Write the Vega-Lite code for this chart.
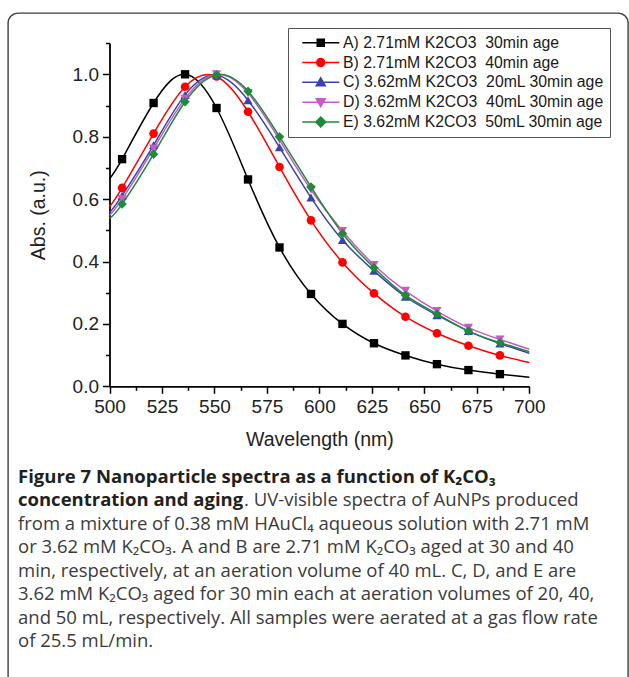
{
  "$schema": "https://vega.github.io/schema/vega-lite/v6.json",
  "width": 620,
  "height": 684,
  "autosize": {"type": "none"},
  "padding": {"left": 8, "top": 13, "right": 1, "bottom": -20},
  "background": "white",
  "config": {
    "view": {"stroke": "#3c3c3c", "strokeWidth": 1.4, "cornerRadius": 10},
    "axis": {
      "grid": false,
      "labelFlush": false,
      "labelOverlap": false,
      "domainColor": "#000",
      "domainWidth": 1.8,
      "tickColor": "#000",
      "tickWidth": 1.5,
      "labelFont": "Liberation Sans",
      "labelFontSize": 19,
      "labelColor": "#222",
      "titleFont": "Liberation Sans",
      "titleFontSize": 19.5,
      "titleFontWeight": "normal",
      "titleColor": "#222"
    },
    "legend": {
      "padding": 6,
      "strokeColor": "#555",
      "fillColor": "white",
      "cornerRadius": 0,
      "labelFont": "Liberation Sans",
      "labelFontSize": 15.8,
      "labelColor": "#1a1a1a",
      "labelOffset": 2,
      "labelLimit": 400,
      "symbolSize": 2025,
      "symbolStrokeWidth": 1.5,
      "clipHeight": 17.5,
      "rowPadding": 1.8
    }
  },
  "datasets": {
    "spectra": [
      {"s": "A) 2.71mM K2CO3\u00a0 30min age", "wl": 500, "a": 0.665},
      {"s": "A) 2.71mM K2CO3\u00a0 30min age", "wl": 506, "a": 0.728},
      {"s": "A) 2.71mM K2CO3\u00a0 30min age", "wl": 521, "a": 0.908},
      {"s": "A) 2.71mM K2CO3\u00a0 30min age", "wl": 536, "a": 1.0},
      {"s": "A) 2.71mM K2CO3\u00a0 30min age", "wl": 551, "a": 0.892},
      {"s": "A) 2.71mM K2CO3\u00a0 30min age", "wl": 566, "a": 0.663},
      {"s": "A) 2.71mM K2CO3\u00a0 30min age", "wl": 581, "a": 0.445},
      {"s": "A) 2.71mM K2CO3\u00a0 30min age", "wl": 596, "a": 0.296},
      {"s": "A) 2.71mM K2CO3\u00a0 30min age", "wl": 611, "a": 0.2},
      {"s": "A) 2.71mM K2CO3\u00a0 30min age", "wl": 626, "a": 0.138},
      {"s": "A) 2.71mM K2CO3\u00a0 30min age", "wl": 641, "a": 0.099},
      {"s": "A) 2.71mM K2CO3\u00a0 30min age", "wl": 656, "a": 0.071},
      {"s": "A) 2.71mM K2CO3\u00a0 30min age", "wl": 671, "a": 0.052},
      {"s": "A) 2.71mM K2CO3\u00a0 30min age", "wl": 686, "a": 0.039},
      {"s": "A) 2.71mM K2CO3\u00a0 30min age", "wl": 700, "a": 0.029},
      {"s": "B) 2.71mM K2CO3\u00a0 40min age", "wl": 500, "a": 0.575},
      {"s": "B) 2.71mM K2CO3\u00a0 40min age", "wl": 506, "a": 0.636},
      {"s": "B) 2.71mM K2CO3\u00a0 40min age", "wl": 521, "a": 0.81},
      {"s": "B) 2.71mM K2CO3\u00a0 40min age", "wl": 536, "a": 0.96},
      {"s": "B) 2.71mM K2CO3\u00a0 40min age", "wl": 551, "a": 0.993},
      {"s": "B) 2.71mM K2CO3\u00a0 40min age", "wl": 566, "a": 0.88},
      {"s": "B) 2.71mM K2CO3\u00a0 40min age", "wl": 581, "a": 0.703},
      {"s": "B) 2.71mM K2CO3\u00a0 40min age", "wl": 596, "a": 0.532},
      {"s": "B) 2.71mM K2CO3\u00a0 40min age", "wl": 611, "a": 0.397},
      {"s": "B) 2.71mM K2CO3\u00a0 40min age", "wl": 626, "a": 0.298},
      {"s": "B) 2.71mM K2CO3\u00a0 40min age", "wl": 641, "a": 0.223},
      {"s": "B) 2.71mM K2CO3\u00a0 40min age", "wl": 656, "a": 0.17},
      {"s": "B) 2.71mM K2CO3\u00a0 40min age", "wl": 671, "a": 0.13},
      {"s": "B) 2.71mM K2CO3\u00a0 40min age", "wl": 686, "a": 0.099},
      {"s": "B) 2.71mM K2CO3\u00a0 40min age", "wl": 700, "a": 0.076},
      {"s": "C) 3.62mM K2CO3\u00a0 20mL 30min age", "wl": 500, "a": 0.556},
      {"s": "C) 3.62mM K2CO3\u00a0 20mL 30min age", "wl": 506, "a": 0.611},
      {"s": "C) 3.62mM K2CO3\u00a0 20mL 30min age", "wl": 521, "a": 0.773},
      {"s": "C) 3.62mM K2CO3\u00a0 20mL 30min age", "wl": 536, "a": 0.934},
      {"s": "C) 3.62mM K2CO3\u00a0 20mL 30min age", "wl": 551, "a": 0.997},
      {"s": "C) 3.62mM K2CO3\u00a0 20mL 30min age", "wl": 566, "a": 0.917},
      {"s": "C) 3.62mM K2CO3\u00a0 20mL 30min age", "wl": 581, "a": 0.766},
      {"s": "C) 3.62mM K2CO3\u00a0 20mL 30min age", "wl": 596, "a": 0.605},
      {"s": "C) 3.62mM K2CO3\u00a0 20mL 30min age", "wl": 611, "a": 0.469},
      {"s": "C) 3.62mM K2CO3\u00a0 20mL 30min age", "wl": 626, "a": 0.37},
      {"s": "C) 3.62mM K2CO3\u00a0 20mL 30min age", "wl": 641, "a": 0.287},
      {"s": "C) 3.62mM K2CO3\u00a0 20mL 30min age", "wl": 656, "a": 0.228},
      {"s": "C) 3.62mM K2CO3\u00a0 20mL 30min age", "wl": 671, "a": 0.177},
      {"s": "C) 3.62mM K2CO3\u00a0 20mL 30min age", "wl": 686, "a": 0.137},
      {"s": "C) 3.62mM K2CO3\u00a0 20mL 30min age", "wl": 700, "a": 0.106},
      {"s": "D) 3.62mM K2CO3\u00a0 40mL 30min age", "wl": 500, "a": 0.548},
      {"s": "D) 3.62mM K2CO3\u00a0 40mL 30min age", "wl": 506, "a": 0.6},
      {"s": "D) 3.62mM K2CO3\u00a0 40mL 30min age", "wl": 521, "a": 0.762},
      {"s": "D) 3.62mM K2CO3\u00a0 40mL 30min age", "wl": 536, "a": 0.922},
      {"s": "D) 3.62mM K2CO3\u00a0 40mL 30min age", "wl": 551, "a": 1.0},
      {"s": "D) 3.62mM K2CO3\u00a0 40mL 30min age", "wl": 566, "a": 0.94},
      {"s": "D) 3.62mM K2CO3\u00a0 40mL 30min age", "wl": 581, "a": 0.79},
      {"s": "D) 3.62mM K2CO3\u00a0 40mL 30min age", "wl": 596, "a": 0.63},
      {"s": "D) 3.62mM K2CO3\u00a0 40mL 30min age", "wl": 611, "a": 0.498},
      {"s": "D) 3.62mM K2CO3\u00a0 40mL 30min age", "wl": 626, "a": 0.389},
      {"s": "D) 3.62mM K2CO3\u00a0 40mL 30min age", "wl": 641, "a": 0.306},
      {"s": "D) 3.62mM K2CO3\u00a0 40mL 30min age", "wl": 656, "a": 0.241},
      {"s": "D) 3.62mM K2CO3\u00a0 40mL 30min age", "wl": 671, "a": 0.188},
      {"s": "D) 3.62mM K2CO3\u00a0 40mL 30min age", "wl": 686, "a": 0.15},
      {"s": "D) 3.62mM K2CO3\u00a0 40mL 30min age", "wl": 700, "a": 0.119},
      {"s": "E) 3.62mM K2CO3\u00a0 50mL 30min age", "wl": 500, "a": 0.538},
      {"s": "E) 3.62mM K2CO3\u00a0 50mL 30min age", "wl": 506, "a": 0.584},
      {"s": "E) 3.62mM K2CO3\u00a0 50mL 30min age", "wl": 521, "a": 0.744},
      {"s": "E) 3.62mM K2CO3\u00a0 50mL 30min age", "wl": 536, "a": 0.912},
      {"s": "E) 3.62mM K2CO3\u00a0 50mL 30min age", "wl": 551, "a": 0.998},
      {"s": "E) 3.62mM K2CO3\u00a0 50mL 30min age", "wl": 566, "a": 0.946},
      {"s": "E) 3.62mM K2CO3\u00a0 50mL 30min age", "wl": 581, "a": 0.8},
      {"s": "E) 3.62mM K2CO3\u00a0 50mL 30min age", "wl": 596, "a": 0.639},
      {"s": "E) 3.62mM K2CO3\u00a0 50mL 30min age", "wl": 611, "a": 0.49},
      {"s": "E) 3.62mM K2CO3\u00a0 50mL 30min age", "wl": 626, "a": 0.38},
      {"s": "E) 3.62mM K2CO3\u00a0 50mL 30min age", "wl": 641, "a": 0.292},
      {"s": "E) 3.62mM K2CO3\u00a0 50mL 30min age", "wl": 656, "a": 0.232},
      {"s": "E) 3.62mM K2CO3\u00a0 50mL 30min age", "wl": 671, "a": 0.177},
      {"s": "E) 3.62mM K2CO3\u00a0 50mL 30min age", "wl": 686, "a": 0.14},
      {"s": "E) 3.62mM K2CO3\u00a0 50mL 30min age", "wl": 700, "a": 0.111}
    ],
    "caption": [
      {"ln": 1, "kind": "head", "seg": 1, "t": "Figure 7 Nanoparticle spectra as a function of K₂CO₃"},
      {"ln": 2, "kind": "head", "seg": 1, "t": "concentration and aging"},
      {"ln": 2, "kind": "body", "seg": 2, "t": ". UV-visible spectra of AuNPs produced"},
      {"ln": 3, "kind": "body", "seg": 1, "t": "from a mixture of 0.38 mM HAuCl₄ aqueous solution with 2.71 mM"},
      {"ln": 4, "kind": "body", "seg": 1, "t": "or 3.62 mM K₂CO₃. A and B are 2.71 mM K₂CO₃ aged at 30 and 40"},
      {"ln": 5, "kind": "body", "seg": 1, "t": "min, respectively, at an aeration volume of 40 mL. C, D, and E are"},
      {"ln": 6, "kind": "body", "seg": 1, "t": "3.62 mM K₂CO₃ aged for 30 min each at aeration volumes of 20, 40,"},
      {"ln": 7, "kind": "body", "seg": 1, "t": "and 50 mL, respectively. All samples were aerated at a gas flow rate"},
      {"ln": 8, "kind": "body", "seg": 1, "t": "of 25.5 mL/min."}
    ]
  },
  "layer": [
    {
      "data": {"name": "spectra"},
      "mark": {"type": "line", "strokeWidth": 1.5, "interpolate": "natural"},
      "encoding": {
        "x": {"field": "wl", "type": "quantitative", "scale": {"domain": [500, 700], "range": [101.5, 521.3], "nice": false, "zero": false},
          "axis": {"orient": "bottom", "offset": -310.7, "values": [500, 525, 550, 575, 600, 625, 650, 675, 700], "tickSize": 7, "labelPadding": 4, "title": "Wavelength (nm)", "titlePadding": 14}},
        "y": {"field": "a", "type": "quantitative", "scale": {"domain": [0, 1.1], "range": [373.3, 30.1], "nice": false, "zero": false},
          "axis": {"orient": "left", "offset": -101.5, "values": [0, 0.2, 0.4, 0.6, 0.8, 1.0], "format": ".1f", "tickSize": 7, "labelPadding": 4, "title": "Abs. (a.u.)", "titlePadding": 24}},
        "color": {"field": "s", "type": "nominal",
          "scale": {"domain": ["E) 3.62mM K2CO3\u00a0 50mL 30min age", "D) 3.62mM K2CO3\u00a0 40mL 30min age", "C) 3.62mM K2CO3\u00a0 20mL 30min age", "B) 2.71mM K2CO3\u00a0 40min age", "A) 2.71mM K2CO3\u00a0 30min age"],
                    "range": ["#1e8a3a", "#c45cc4", "#3a44a6", "#ff0000", "#000000"]},
          "legend": null}
      }
    },
    {
      "data": {"name": "spectra"},
      "transform": [{"filter": "datum.wl > 500 && datum.wl < 700 && indexof(datum.s, 'A)') == 0"}],
      "mark": {"type": "point", "shape": "square", "filled": true, "size": 70, "opacity": 1, "color": "#000000"},
      "encoding": {
        "x": {"field": "wl", "type": "quantitative", "scale": {"domain": [500, 700], "range": [101.5, 521.3], "nice": false, "zero": false},
          "axis": {"orient": "bottom", "offset": -310.7, "values": [512.5, 537.5, 562.5, 587.5, 612.5, 637.5, 662.5, 687.5], "tickSize": 4, "labels": false, "domain": false, "title": null}},
        "y": {"field": "a", "type": "quantitative", "scale": {"domain": [0, 1.1], "range": [373.3, 30.1], "nice": false, "zero": false},
          "axis": {"orient": "left", "offset": -101.5, "values": [0.1, 0.3, 0.5, 0.7, 0.9, 1.1], "tickSize": 4, "labels": false, "domain": false, "title": null}}
      }
    },
    {
      "data": {"name": "spectra"},
      "transform": [{"filter": "datum.wl > 500 && datum.wl < 700 && indexof(datum.s, 'B)') == 0"}],
      "mark": {"type": "point", "shape": "circle", "filled": true, "size": 75, "opacity": 1, "color": "#ff0000"},
      "encoding": {
        "x": {"field": "wl", "type": "quantitative", "scale": {"domain": [500, 700], "range": [101.5, 521.3], "nice": false, "zero": false}, "axis": null},
        "y": {"field": "a", "type": "quantitative", "scale": {"domain": [0, 1.1], "range": [373.3, 30.1], "nice": false, "zero": false}, "axis": null}
      }
    },
    {
      "data": {"name": "spectra"},
      "transform": [{"filter": "datum.wl > 500 && datum.wl < 700 && indexof(datum.s, 'C)') == 0"}],
      "mark": {"type": "point", "shape": "triangle-up", "filled": true, "size": 85, "opacity": 1, "color": "#3a44a6"},
      "encoding": {
        "x": {"field": "wl", "type": "quantitative", "scale": {"domain": [500, 700], "range": [101.5, 521.3], "nice": false, "zero": false}, "axis": null},
        "y": {"field": "a", "type": "quantitative", "scale": {"domain": [0, 1.1], "range": [373.3, 30.1], "nice": false, "zero": false}, "axis": null}
      }
    },
    {
      "data": {"name": "spectra"},
      "transform": [{"filter": "datum.wl > 500 && datum.wl < 700 && indexof(datum.s, 'D)') == 0"}],
      "mark": {"type": "point", "shape": "triangle-down", "filled": true, "size": 85, "opacity": 1, "color": "#c45cc4"},
      "encoding": {
        "x": {"field": "wl", "type": "quantitative", "scale": {"domain": [500, 700], "range": [101.5, 521.3], "nice": false, "zero": false}, "axis": null},
        "y": {"field": "a", "type": "quantitative", "scale": {"domain": [0, 1.1], "range": [373.3, 30.1], "nice": false, "zero": false}, "axis": null}
      }
    },
    {
      "data": {"name": "spectra"},
      "transform": [{"filter": "datum.wl > 500 && datum.wl < 700 && indexof(datum.s, 'E)') == 0"}],
      "mark": {"type": "point", "shape": "diamond", "filled": true, "size": 90, "opacity": 1, "color": "#1e8a3a"},
      "encoding": {
        "x": {"field": "wl", "type": "quantitative", "scale": {"domain": [500, 700], "range": [101.5, 521.3], "nice": false, "zero": false}, "axis": null},
        "y": {"field": "a", "type": "quantitative", "scale": {"domain": [0, 1.1], "range": [373.3, 30.1], "nice": false, "zero": false}, "axis": null}
      }
    },
    {
      "data": {"name": "spectra"},
      "transform": [{"filter": "datum.wl < 0"}],
      "mark": {"type": "point", "filled": true, "opacity": 1},
      "encoding": {
        "fill": {"field": "s", "type": "nominal",
          "scale": {"domain": ["A) 2.71mM K2CO3\u00a0 30min age", "B) 2.71mM K2CO3\u00a0 40min age", "C) 3.62mM K2CO3\u00a0 20mL 30min age", "D) 3.62mM K2CO3\u00a0 40mL 30min age", "E) 3.62mM K2CO3\u00a0 50mL 30min age"],
                    "range": ["#000000", "#ff0000", "#3a44a6", "#c45cc4", "#1e8a3a"]},
          "legend": {"orient": "none", "legendX": 280, "legendY": 15, "direction": "vertical", "title": null}},
        "stroke": {"field": "s", "type": "nominal",
          "scale": {"domain": ["A) 2.71mM K2CO3\u00a0 30min age", "B) 2.71mM K2CO3\u00a0 40min age", "C) 3.62mM K2CO3\u00a0 20mL 30min age", "D) 3.62mM K2CO3\u00a0 40mL 30min age", "E) 3.62mM K2CO3\u00a0 50mL 30min age"],
                    "range": ["#000000", "#ff0000", "#3a44a6", "#c45cc4", "#1e8a3a"]},
          "legend": {"orient": "none", "legendX": 280, "legendY": 15, "direction": "vertical", "title": null}},
        "shape": {"field": "s", "type": "nominal",
          "scale": {"domain": ["A) 2.71mM K2CO3\u00a0 30min age", "B) 2.71mM K2CO3\u00a0 40min age", "C) 3.62mM K2CO3\u00a0 20mL 30min age", "D) 3.62mM K2CO3\u00a0 40mL 30min age", "E) 3.62mM K2CO3\u00a0 50mL 30min age"],
                    "range": [
                      "M-0.678,0H0.967M-0.012,-0.156H0.3V0.156H-0.012Z",
                      "M-0.678,0H0.967M0.322,0A0.178,0.178,0,1,1,-0.034,0A0.178,0.178,0,1,1,0.322,0Z",
                      "M-0.678,0H0.967M0.144,-0.2L0.344,0.155L-0.056,0.155Z",
                      "M-0.678,0H0.967M0.144,0.2L0.344,-0.155L-0.056,-0.155Z",
                      "M-0.678,0H0.967M0.144,-0.22L0.364,0L0.144,0.22L-0.076,0Z"
                    ]},
          "legend": {"orient": "none", "legendX": 280, "legendY": 15, "direction": "vertical", "title": null}}
      }
    },
    {
      "data": {"name": "caption"},
      "transform": [{"filter": "datum.kind == 'head'"}],
      "mark": {"type": "text", "align": "left", "baseline": "middle", "font": "Open Sans", "fontSize": 18.5, "fontWeight": "bold", "color": "#231f20"},
      "encoding": {
        "x": {"value": 10},
        "y": {"field": "ln", "type": "quantitative", "scale": {"domain": [1, 8], "range": [464, 628], "zero": false, "nice": false}, "axis": null},
        "text": {"field": "t"}
      }
    },
    {
      "data": {"name": "caption"},
      "transform": [{"filter": "datum.kind == 'body' && datum.seg == 1"}],
      "mark": {"type": "text", "align": "left", "baseline": "middle", "font": "Open Sans", "fontSize": 18.5, "color": "#3b3b3b"},
      "encoding": {
        "x": {"value": 10},
        "y": {"field": "ln", "type": "quantitative", "scale": {"domain": [1, 8], "range": [464, 628], "zero": false, "nice": false}, "axis": null},
        "text": {"field": "t"}
      }
    },
    {
      "data": {"name": "caption"},
      "transform": [{"filter": "datum.kind == 'body' && datum.seg == 2"}],
      "mark": {"type": "text", "align": "left", "baseline": "middle", "font": "Open Sans", "fontSize": 18.5, "color": "#3b3b3b"},
      "encoding": {
        "x": {"value": 236},
        "y": {"field": "ln", "type": "quantitative", "scale": {"domain": [1, 8], "range": [464, 628], "zero": false, "nice": false}, "axis": null},
        "text": {"field": "t"}
      }
    }
  ],
  "resolve": {"scale": {"x": "independent", "y": "independent"}}
}
